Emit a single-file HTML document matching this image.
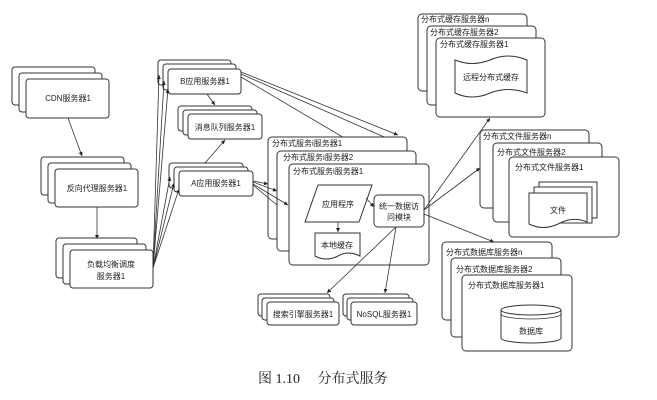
<!DOCTYPE html>
<html><head><meta charset="utf-8"><style>
body{margin:0;background:#fff;width:657px;height:400px;overflow:hidden}
svg{display:block}
text{font-family:"Liberation Sans","Noto Sans CJK SC",sans-serif;font-size:8px;fill:#222}
.b{fill:#fff;stroke:#333;stroke-width:1}
.l{stroke:#333;stroke-width:0.8;fill:none}
</style></head><body>
<svg width="657" height="400" viewBox="0 0 657 400">
<defs><marker id="a" markerWidth="6" markerHeight="6" refX="5" refY="3" orient="auto"><path d="M0,0.5 L5,3 L0,5.5z" fill="#222"/></marker></defs>
<!-- CDN -->
<rect class="b" x="12" y="67" width="83" height="38" rx="3"/>
<rect class="b" x="19" y="73" width="83" height="39" rx="3"/>
<rect class="b" x="26" y="79" width="83" height="39" rx="3"/>
<text x="68" y="101" text-anchor="middle">CDN服务器1</text>
<line class="l" x1="68" y1="118" x2="82" y2="156" marker-end="url(#a)"/>
<!-- reverse proxy -->
<rect class="b" x="41" y="157" width="83" height="38" rx="3"/>
<rect class="b" x="48" y="163" width="83" height="40" rx="3"/>
<rect class="b" x="55" y="169" width="83" height="38" rx="3"/>
<text x="97" y="191" text-anchor="middle">反向代理服务器1</text>
<line class="l" x1="97" y1="207" x2="97" y2="239" marker-end="url(#a)"/>
<!-- LB -->
<rect class="b" x="56" y="238" width="81" height="40" rx="3"/>
<rect class="b" x="63" y="244" width="83" height="40" rx="3"/>
<rect class="b" x="70" y="250" width="83" height="38" rx="3"/>
<text x="111" y="267" text-anchor="middle">负载均衡调度</text>
<text x="111" y="279" text-anchor="middle">服务器1</text>
<!-- B -->
<rect class="b" x="158" y="60" width="73" height="25" rx="3"/>
<rect class="b" x="163" y="64" width="73" height="26" rx="3"/>
<rect class="b" x="168" y="69" width="73" height="25" rx="3"/>
<text x="205" y="84" text-anchor="middle">B应用服务器1</text>
<!-- MQ -->
<rect class="b" x="178" y="106" width="74" height="25" rx="3"/>
<rect class="b" x="183" y="110" width="74" height="25" rx="3"/>
<rect class="b" x="188" y="114" width="74" height="25" rx="3"/>
<text x="225" y="130" text-anchor="middle">消息队列服务器1</text>
<!-- A -->
<rect class="b" x="169" y="163" width="74" height="25" rx="3"/>
<rect class="b" x="174" y="167" width="74" height="25" rx="3"/>
<rect class="b" x="179" y="171" width="74" height="25" rx="3"/>
<text x="216" y="186" text-anchor="middle">A应用服务器1</text>
<line class="l" x1="207" y1="94" x2="215" y2="105" marker-end="url(#a)"/>
<line class="l" x1="205" y1="163" x2="225" y2="140" marker-end="url(#a)"/>
<!-- LB lines -->
<line class="l" x1="153" y1="268" x2="159" y2="75" marker-end="url(#a)"/>
<line class="l" x1="153" y1="268" x2="164" y2="81" marker-end="url(#a)"/>
<line class="l" x1="153" y1="268" x2="168" y2="89" marker-end="url(#a)"/>
<line class="l" x1="153" y1="268" x2="170" y2="177" marker-end="url(#a)"/>
<line class="l" x1="153" y1="268" x2="174" y2="183" marker-end="url(#a)"/>
<line class="l" x1="153" y1="268" x2="179" y2="189" marker-end="url(#a)"/>
<!-- B lines to dist services -->
<line class="l" x1="241" y1="72" x2="398" y2="135" marker-end="url(#a)"/>
<line class="l" x1="241" y1="74" x2="407" y2="147" marker-end="url(#a)"/>
<line class="l" x1="241" y1="77" x2="385" y2="162" marker-end="url(#a)"/>
<!-- dist service stack -->
<rect class="b" x="268" y="137" width="139" height="102" rx="4"/>
<text x="272" y="146">分布式服务i服务器1</text>
<rect class="b" x="277" y="151" width="139" height="100" rx="4"/>
<text x="283" y="160">分布式服务i服务器2</text>
<rect class="b" x="289" y="164" width="140" height="101" rx="4"/>
<text x="293" y="174">分布式服务i服务器1</text>
<!-- A lines -->
<line class="l" x1="253" y1="181" x2="268" y2="184" marker-end="url(#a)"/>
<line class="l" x1="253" y1="182" x2="277" y2="191" marker-end="url(#a)"/>
<line class="l" x1="253" y1="184" x2="288" y2="205" marker-end="url(#a)"/>
<line class="l" x1="253" y1="185" x2="277" y2="205"/>
<!-- app -->
<path class="b" d="M318,185 L372,185 L359,222 L305,222 Z"/>
<text x="338" y="207" text-anchor="middle">应用程序</text>
<line class="l" x1="338" y1="222" x2="338" y2="232" marker-end="url(#a)"/>
<path class="b" d="M315,233 L360,233 L360,256 Q348,250 338,256 Q326,262 315,256 Z"/>
<text x="337" y="248" text-anchor="middle">本地缓存</text>
<line class="l" x1="366" y1="198" x2="374" y2="207" marker-end="url(#a)"/>
<rect class="b" x="374" y="195" width="50" height="32" rx="4"/>
<text x="399" y="209" text-anchor="middle">统一数据访</text>
<text x="399" y="220" text-anchor="middle">问模块</text>
<!-- to search/nosql -->
<line class="l" x1="396" y1="227" x2="327" y2="293" marker-end="url(#a)"/>
<line class="l" x1="396" y1="227" x2="385" y2="293" marker-end="url(#a)"/>
<rect class="b" x="258" y="294" width="72" height="22" rx="3"/>
<rect class="b" x="262" y="298" width="72" height="22" rx="3"/>
<rect class="b" x="267" y="302" width="72" height="23" rx="3"/>
<text x="303" y="317" text-anchor="middle">搜索引擎服务器1</text>
<rect class="b" x="343" y="294" width="66" height="22" rx="3"/>
<rect class="b" x="347" y="298" width="66" height="22" rx="3"/>
<rect class="b" x="351" y="302" width="66" height="23" rx="3"/>
<text x="384" y="317" text-anchor="middle">NoSQL服务器1</text>
<!-- right arrows -->
<line class="l" x1="424" y1="210" x2="490" y2="118" marker-end="url(#a)"/>
<line class="l" x1="424" y1="210" x2="480" y2="168" marker-end="url(#a)"/>
<line class="l" x1="424" y1="214" x2="494" y2="242" marker-end="url(#a)"/>
<!-- cache -->
<rect class="b" x="418" y="14" width="109" height="77" rx="4"/>
<text x="421" y="22">分布式缓存服务器n</text>
<rect class="b" x="427" y="26" width="109" height="79" rx="4"/>
<text x="430" y="35">分布式缓存服务器2</text>
<rect class="b" x="436" y="38" width="109" height="79" rx="4"/>
<text x="440" y="47">分布式缓存服务器1</text>
<path class="b" d="M455,60 Q472,67 490,60 Q508,52 527,60 L527,93 Q508,86 490,93 Q472,101 455,93 Z"/>
<text x="491" y="80" text-anchor="middle">远程分布式缓存</text>
<!-- file -->
<rect class="b" x="480" y="130" width="109" height="78" rx="4"/>
<text x="483" y="139">分布式文件服务器n</text>
<rect class="b" x="493" y="143" width="109" height="79" rx="4"/>
<text x="497" y="155">分布式文件服务器2</text>
<rect class="b" x="509" y="157" width="110" height="80" rx="4"/>
<text x="515" y="170">分布式文件服务器1</text>
<rect class="b" x="539" y="182" width="58" height="36"/>
<rect class="b" x="534" y="187" width="58" height="36"/>
<path class="b" d="M529,193 L587,193 L587,222 Q573,216 558,224 Q543,231 529,224 Z"/>
<text x="558" y="213" text-anchor="middle">文件</text>
<!-- db -->
<rect class="b" x="442" y="242" width="110" height="78" rx="4"/>
<text x="446" y="255">分布式数据库服务器n</text>
<rect class="b" x="451" y="258" width="110" height="79" rx="4"/>
<text x="456" y="272">分布式数据库服务器2</text>
<rect class="b" x="462" y="275" width="110" height="76" rx="4"/>
<text x="468" y="288">分布式数据库服务器1</text>
<path class="b" d="M501,310 L501,338 A30,5 0 0 0 561,338 L561,310"/>
<ellipse class="b" cx="531" cy="310" rx="30" ry="5"/>
<path class="l" d="M501,314 A30,5 0 0 0 561,314"/>
<text x="531" y="334" text-anchor="middle">数据库</text>
<!-- caption -->
<text x="258" y="383" style="font-family:'Liberation Serif','Noto Serif CJK SC',serif;font-size:14px">图 1.10　 分布式服务</text>
</svg>
</body></html>
